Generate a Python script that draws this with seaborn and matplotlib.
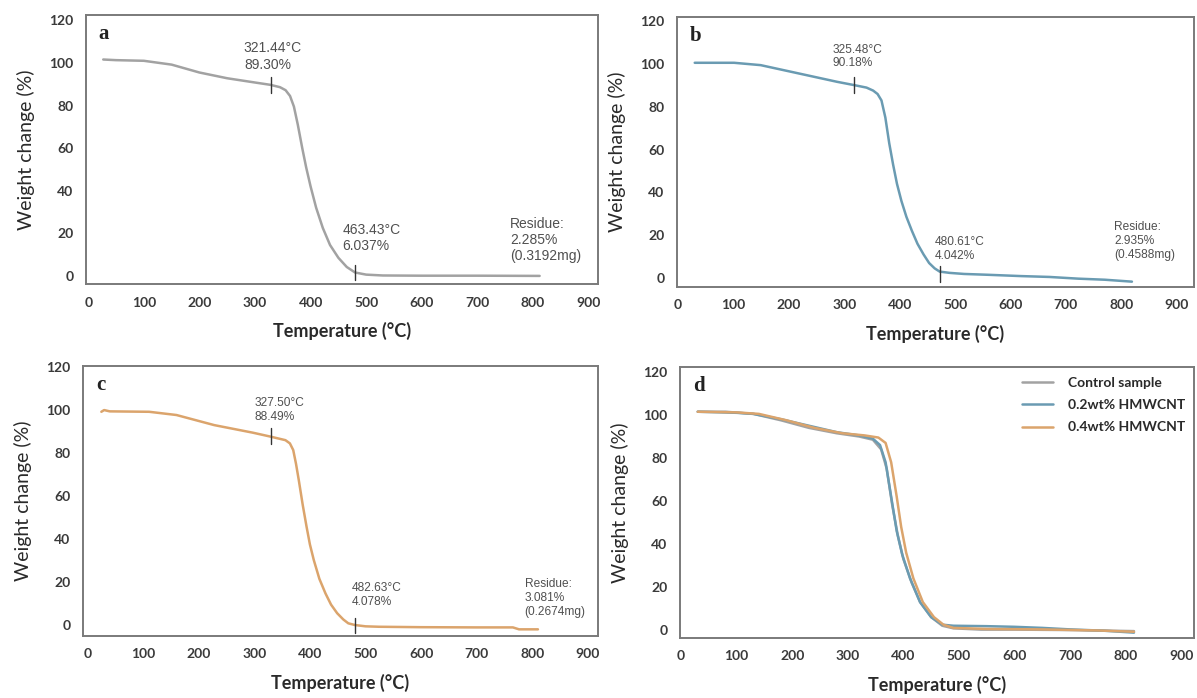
import matplotlib
import numpy as np
import pandas as pd

matplotlib.use("Agg")
import matplotlib.pyplot as plt
import seaborn as sns


OUTPUT_FILE = "out.png"

COLORS = {
    "control": "#a2a2a2",
    "cnt02": "#6a9bb2",
    "cnt04": "#dba46c",
    "spine": "#7a7a7a",
    "tick": "#3a3a3a",
    "note": "#505050",
}

# panel a - control sample
a_temp = [27, 50, 100, 150, 200, 250, 300, 328, 345, 355, 363, 370, 377, 385, 392, 400,
          410, 422, 435, 450, 465, 480, 500, 530, 600, 700, 812]
a_weight = [101.6, 101.3, 101.0, 99.2, 95.5, 92.8, 90.8, 89.7, 88.6, 87.2, 84.5, 79.5, 71.0, 60.0, 51.0, 42.0,
            32.0, 22.5, 14.5, 8.5, 4.2, 1.6, 0.6, 0.2, 0.1, 0.1, 0.0]

# panel b - 0.2wt% HMWCNT
b_temp = [30, 60, 101, 149, 218, 287, 317, 340, 352, 360, 367, 374, 381, 388, 395, 403,
          412, 422, 432, 443, 453, 463, 472, 490, 516, 560, 619, 670, 722, 770, 819]
b_weight = [100.6, 100.6, 100.6, 99.5, 95.6, 91.7, 90.2, 89.0, 87.6, 86.0, 83.0, 75.0, 63.0, 53.0, 44.0, 36.0,
            28.6, 22.0, 16.0, 11.0, 7.0, 4.5, 3.0, 2.4, 1.9, 1.5, 0.9, 0.5, -0.3, -0.8, -1.7]

# panel c - 0.4wt% HMWCNT
c_temp = [25, 30, 40, 111, 160, 228, 297, 330, 356, 364, 370, 375, 380, 387, 394, 400,
          407, 417, 428, 438, 449, 460, 469, 481, 500, 524, 600, 700, 765, 776, 810]
c_weight = [99.2, 100.0, 99.4, 99.2, 97.7, 93.0, 89.5, 87.6, 86.0, 84.5, 81.4, 75.0, 67.4, 56.0, 45.7, 37.5,
            30.2, 21.5, 14.7, 9.5, 5.5, 2.6, 0.8, 0.0, -0.6, -0.8, -1.0, -1.1, -1.1, -2.0, -2.0]

# panel d - overlay
d_control_temp = [30, 80, 130, 180, 230, 280, 320, 345, 360, 370, 380, 390, 400, 415, 430, 450,
                  470, 490, 540, 600, 700, 815]
d_control_weight = [101.5, 101.5, 100.5, 97.5, 94.0, 91.5, 90.0, 88.5, 84.0, 75.0, 58.0, 44.0, 33.0, 22.0, 13.0, 6.0,
                    2.0, 0.8, 0.2, 0.2, 0.0, -0.5]
d_cnt02_temp = [30, 100, 130, 180, 230, 280, 320, 345, 358, 368, 378, 388, 398, 412, 430, 450,
                470, 490, 550, 600, 650, 700, 760, 815]
d_cnt02_weight = [101.5, 101.0, 100.5, 98.0, 95.0, 92.0, 90.5, 89.0, 86.0, 78.0, 62.0, 46.0, 35.0, 24.0, 13.0, 6.0,
                  2.5, 2.0, 1.8, 1.5, 1.0, 0.3, -0.3, -1.2]
d_cnt04_temp = [30, 100, 140, 190, 240, 290, 330, 355, 368, 378, 388, 396, 405, 418, 435, 455,
                472, 490, 550, 650, 750, 815]
d_cnt04_weight = [101.5, 101.2, 100.5, 97.5, 94.0, 91.5, 90.5, 89.5, 87.0, 78.0, 62.0, 48.0, 36.0, 24.0, 13.0, 6.0,
                  2.5, 1.0, 0.5, 0.3, -0.2, -0.8]

SAMPLE_LABELS = ["Control sample", "0.2wt% HMWCNT", "0.4wt% HMWCNT"]

# annotation values per panel
onset_text = ["321.44°C\n89.30%", "325.48°C\n90.18%", "327.50°C\n88.49%"]
onset_pos = [(280, 103.0), (279, 103.5), (301, 99.9)]
onset_mark = [(328, 89.7), (317, 90.2), (330, 88.0)]
end_text = ["463.43°C\n6.037%", "480.61°C\n4.042%", "482.63°C\n4.078%"]
end_pos = [(457, 17.8), (464, 13.5), (475, 13.8)]
end_mark = [(480, 1.5), (472, 1.8), (481, -0.2)]
residue_text = ["Residue:\n2.285%\n(0.3192mg)", "Residue:\n2.935%\n(0.4588mg)", "Residue:\n3.081%\n(0.2674mg)"]
residue_pos = [(759, 16.9), (787, 17.3), (786, 12.6)]
note_size = [10, 8.6, 8.6]

PANEL_LETTERS = ["a", "b", "c", "d"]
X_TICKS = list(range(0, 1000, 100))
Y_TICKS = list(range(0, 140, 20))

# axes boxes in pixels: left, right, top, bottom
AXES_PX = [(86, 598, 15, 284), (677, 1194, 17, 287), (83, 598, 366, 636), (680, 1194, 367, 638)]
X_LIMITS = [(-4, 917), (-2, 931), (-8, 918), (-2, 923)]
Y_LIMITS = [(-3.8, 122.5), (-4.2, 122.0), (-5.1, 120.5), (-3.7, 122.3)]

FIG_W, FIG_H = 1197, 698


def setup_style() -> None:
    sns.set_theme(style="white")
    plt.rcParams["font.family"] = ["Lato", "DejaVu Sans"]
    plt.rcParams["axes.unicode_minus"] = False


def make_axes(fig, box):
    left, right, top, bottom = box
    return fig.add_axes([left / FIG_W, 1 - bottom / FIG_H, (right - left) / FIG_W, (bottom - top) / FIG_H])


def style_axes(ax, idx: int) -> None:
    ax.set_xlim(*X_LIMITS[idx])
    ax.set_ylim(*Y_LIMITS[idx])
    ax.set_xticks(X_TICKS)
    ax.set_yticks(Y_TICKS)
    ax.tick_params(length=0, pad=9, labelsize=10, colors=COLORS["tick"])
    for label in ax.get_xticklabels() + ax.get_yticklabels():
        label.set_fontweight("bold")
    for spine in ax.spines.values():
        spine.set_color(COLORS["spine"])
        spine.set_linewidth(1.4)
    ax.set_xlabel("Temperature (°C)", fontsize=13, fontweight="bold", color="#2a2a2a", labelpad=10)
    ax.set_ylabel("Weight change (%)", fontsize=14, color="#2a2a2a", labelpad=10)
    ax.grid(False)
    ax.text(
        0.025, 0.93, PANEL_LETTERS[idx], transform=ax.transAxes,
        fontsize=15, fontweight="bold", family="Liberation Serif", color="#222222", va="center",
    )


def annotate_panel(ax, idx: int) -> None:
    size = note_size[idx]
    for text, pos in [(onset_text[idx], onset_pos[idx]), (end_text[idx], end_pos[idx]),
                      (residue_text[idx], residue_pos[idx])]:
        ax.text(pos[0], pos[1], text, fontsize=size, family="Liberation Sans",
                color=COLORS["note"], ha="left", va="center", linespacing=1.2)
    for mark in [onset_mark[idx], end_mark[idx]]:
        ax.plot([mark[0], mark[0]], [mark[1] - 3.6, mark[1] + 3.6], color="#333333", lw=1.0)


def draw_single(ax, temps, weights, color, idx: int) -> None:
    sns.lineplot(x=temps, y=weights, color=color, linewidth=1.8, ax=ax, sort=False)
    style_axes(ax, idx)
    annotate_panel(ax, idx)


def draw_overlay(ax) -> None:
    frames = [
        pd.DataFrame({"temp": d_control_temp, "weight": d_control_weight, "sample": SAMPLE_LABELS[0]}),
        pd.DataFrame({"temp": d_cnt02_temp, "weight": d_cnt02_weight, "sample": SAMPLE_LABELS[1]}),
        pd.DataFrame({"temp": d_cnt04_temp, "weight": d_cnt04_weight, "sample": SAMPLE_LABELS[2]}),
    ]
    df = pd.concat(frames, ignore_index=True)
    palette = dict(zip(SAMPLE_LABELS, [COLORS["control"], COLORS["cnt02"], COLORS["cnt04"]]))
    sns.lineplot(data=df, x="temp", y="weight", hue="sample", hue_order=SAMPLE_LABELS,
                 palette=palette, linewidth=1.8, ax=ax, sort=False)
    style_axes(ax, 3)

    old = ax.get_legend()
    handles = old.legend_handles
    labels = [t.get_text() for t in old.texts]
    old.remove()
    leg = ax.legend(
        handles, labels, loc="upper left", bbox_to_anchor=(0.655, 0.985), frameon=False,
        prop={"family": "Lato", "weight": "bold", "size": 10}, handlelength=2.2,
        handletextpad=1.1, labelspacing=0.75, borderaxespad=0,
    )
    for text in leg.get_texts():
        text.set_color("#2a2a2a")
    for line in leg.get_lines():
        line.set_linewidth(1.8)


def main() -> None:
    setup_style()
    fig = plt.figure(figsize=(FIG_W / 100, FIG_H / 100), dpi=100)
    fig.patch.set_facecolor("white")

    axes = [make_axes(fig, box) for box in AXES_PX]
    draw_single(axes[0], a_temp, a_weight, COLORS["control"], 0)
    draw_single(axes[1], b_temp, b_weight, COLORS["cnt02"], 1)
    draw_single(axes[2], c_temp, c_weight, COLORS["cnt04"], 2)
    draw_overlay(axes[3])

    fig.savefig(OUTPUT_FILE, dpi=100)
    plt.close(fig)


if __name__ == "__main__":
    main()
